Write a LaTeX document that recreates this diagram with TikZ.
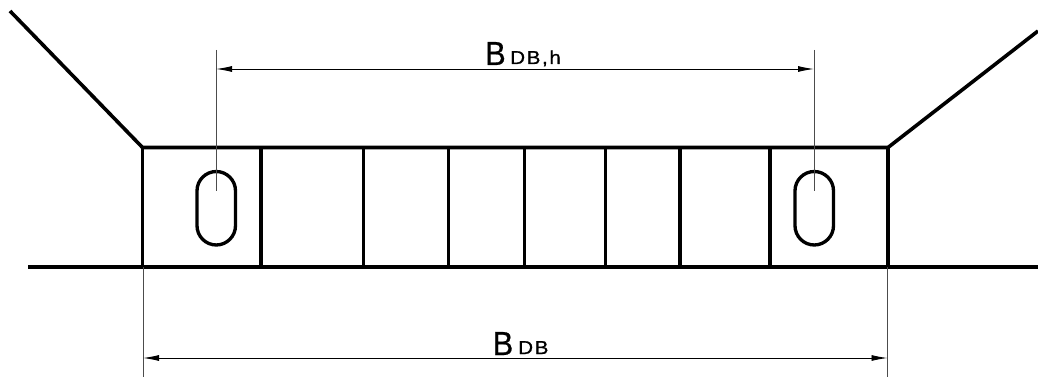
\documentclass[tikz,border=0pt]{standalone}
\usepackage{fontspec}
\setmainfont{Liberation Sans}
\newfontfamily\bigfont[FakeBold=0.6]{Liberation Sans}
\newfontfamily\subfont[LetterSpace=8,FakeBold=0.9]{Liberation Sans}
\usetikzlibrary{arrows.meta}
\tikzset{
  x=0.75pt,y=-0.75pt,
  heavy/.style={line width=2.7pt,black,line cap=butt,line join=miter},
  slot/.style={line width=2.5pt,black,rounded corners=14.5pt},
  thin line/.style={line width=0.7pt,black!70},
  dimline/.style={line width=0.7pt,black,{Latex[length=12pt,width=4.5pt]}-{Latex[length=12pt,width=4.5pt]}},
  lbl/.style={inner sep=0pt,anchor=base west}
}
\newcommand{\bigB}{\scalebox{0.92}[1]{\bigfont\fontsize{25}{26}\selectfont B}}
\newcommand{\subtxt}[1]{\scalebox{1.1}[1]{\subfont\fontsize{14}{15}\selectfont #1}}
\begin{document}
\begin{tikzpicture}
\useasboundingbox (0,0) rectangle (1038,377);
\fill[white] (0,0) rectangle (1038,377);
% frame points
\coordinate (TL) at (142.5,147.5);
\coordinate (TR) at (888,147.5);
\coordinate (BL) at (142.5,267);
\coordinate (BR) at (888,267);
\coordinate (GL) at (28,267);
\coordinate (GR) at (1038,267);
\coordinate (WL) at (10,11);
\coordinate (WR) at (1038,31);
% walls, ground
\draw[heavy] (WL) -- (TL) -- (TR) -- (WR);
\draw[heavy] (GL) -- (GR);
\draw[heavy] (TL) -- (BL);
\draw[heavy] (TR) -- (BR);
% dividers
\foreach \n/\px in {a/261,b/363.5,c/448.5,d/524.5,e/605.5,f/680,g/770}{
  \coordinate (\n1) at (\px,147.5);
  \coordinate (\n2) at (\px,267);
  \draw[heavy] (\n1) -- (\n2);
}
% slots
\draw[slot] (197,171.5) rectangle (235.5,245);
\draw[slot] (795,171.5) rectangle (833.5,245);
% extension lines
\coordinate (E1a) at (216,50);   \coordinate (E1b) at (216,191);
\coordinate (E2a) at (814,50);   \coordinate (E2b) at (814,191);
\coordinate (E3a) at (143,267);  \coordinate (E3b) at (143,377);
\coordinate (E4a) at (887.5,267);\coordinate (E4b) at (887.5,377);
\draw[thin line] (E1a) -- (E1b);
\draw[thin line] (E2a) -- (E2b);
\draw[thin line] (E3a) -- (E3b);
\draw[thin line] (E4a) -- (E4b);
% dimensions
\coordinate (D1a) at (216,69); \coordinate (D1b) at (814,69);
\coordinate (D2a) at (143,358);\coordinate (D2b) at (887.5,358);
\draw[dimline] (D1a) -- (D1b);
\draw[dimline] (D2a) -- (D2b);
% labels
\node[lbl] (top B) at (485,65) {\bigB};
\node[lbl] (top sub) at (510,64) {\subtxt{DB,h}};
\node[lbl] (bot B) at (492.5,355) {\bigB};
\node[lbl] (bot sub) at (518,354) {\subtxt{DB}};
\end{tikzpicture}
\end{document}
